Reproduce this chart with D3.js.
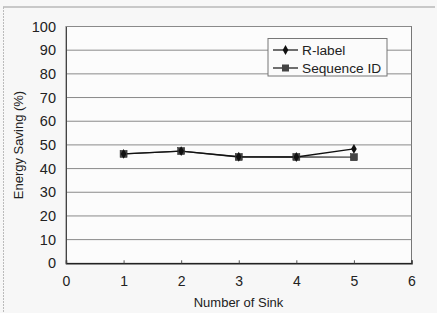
<!DOCTYPE html>
<html><head><meta charset="utf-8">
<script src="https://cdn.jsdelivr.net/npm/d3@7"></script>
<style>body{margin:0;background:#f7f7f7;}svg{display:block;}</style>
</head><body><svg id="c" width="437" height="313"></svg>
<script>
const xTicks = [0,1,2,3,4,5,6];
const yTicks = [0,10,20,30,40,50,60,70,80,90,100];
const sinks = [1,2,3,4,5];
const rLabel = [46.2,47.4,45.0,44.9,48.3];
const seqID = [46.2,47.4,44.9,44.9,44.8];
const seriesNames = ["R-label","Sequence ID"];

const svg = d3.select("#c");
const font = "Liberation Sans, Arial, sans-serif";
const L=66, R=411.5, T=26.5, B=263.3;
const x = d3.scaleLinear().domain([0,6]).range([L,R]);
const y = d3.scaleLinear().domain([0,100]).range([B,T]);

// outer frame
svg.append("line").attr("x1",3).attr("x2",435).attr("y1",7).attr("y2",7).attr("stroke","#999").attr("stroke-width",1);
svg.append("line").attr("x1",3.5).attr("x2",3.5).attr("y1",7).attr("y2",313).attr("stroke","#bbb").attr("stroke-width",1).attr("stroke-dasharray","2,1");

// plot area background
svg.append("rect").attr("x",L).attr("y",T).attr("width",R-L).attr("height",B-T).attr("fill","#fcfcfc").attr("stroke","#777").attr("stroke-width",1);

// gridlines
svg.append("g").selectAll("line").data(yTicks.filter(d=>d>0)).join("line")
  .attr("x1",L).attr("x2",R).attr("y1",d=>y(d)).attr("y2",d=>y(d))
  .attr("stroke","#8a8a8a").attr("stroke-width",1);

// axes
const gx = svg.append("g").attr("transform",`translate(0,${B})`)
  .call(d3.axisBottom(x).tickValues(xTicks).tickSize(-3).tickPadding(13).tickFormat(d3.format("d")));
gx.select(".domain").attr("stroke","#222").attr("stroke-width",1.5);
gx.selectAll(".tick line").attr("stroke","#555");
gx.selectAll("text").attr("font-family",font).attr("font-size",14).attr("fill","#222");

const gy = svg.append("g").attr("transform",`translate(${L},0)`)
  .call(d3.axisLeft(y).tickValues(yTicks).tickSize(0).tickPadding(10));
gy.select(".domain").attr("stroke","#444").attr("stroke-width",1);
gy.selectAll("text").attr("font-family",font).attr("font-size",14.5).attr("fill","#222");

// lines
const line = d3.line().x((d,i)=>x(sinks[i])).y(d=>y(d));
svg.append("path").datum(seqID).attr("d",line).attr("fill","none").attr("stroke","#444").attr("stroke-width",1.3);
svg.append("path").datum(rLabel).attr("d",line).attr("fill","none").attr("stroke","#111").attr("stroke-width",1.3);

const diamond = d3.symbol().type(d3.symbolDiamond).size(28);
svg.append("g").selectAll("rect").data(seqID).join("rect")
  .attr("x",(d,i)=>x(sinks[i])-3.5).attr("y",d=>y(d)-3.5).attr("width",7).attr("height",7)
  .attr("fill","#444").attr("stroke","#222").attr("stroke-width",0.5);
svg.append("g").selectAll("path").data(rLabel).join("path")
  .attr("d",diamond).attr("transform",(d,i)=>`translate(${x(sinks[i])},${y(d)})`).attr("fill","#111");

// legend
const lg = svg.append("g");
lg.append("rect").attr("x",268).attr("y",38.5).attr("width",119).attr("height",37.5).attr("fill","#fbfbfb").attr("stroke","#777");
const ly = [50,68];
seriesNames.forEach((n,i)=>{
  lg.append("line").attr("x1",273).attr("x2",298).attr("y1",ly[i]).attr("y2",ly[i]).attr("stroke","#222").attr("stroke-width",1.3);
  if(i===0) lg.append("path").attr("d",diamond).attr("transform",`translate(285.5,${ly[i]})`).attr("fill","#111");
  else lg.append("rect").attr("x",282).attr("y",ly[i]-3.5).attr("width",7).attr("height",7).attr("fill","#444");
  lg.append("text").attr("x",302).attr("y",ly[i]).attr("dy","0.36em").attr("font-family",font).attr("font-size",13.7).attr("fill","#222").text(n);
});

// axis titles
svg.append("text").attr("x",238.5).attr("y",302).attr("dy","0.36em").attr("text-anchor","middle")
  .attr("font-family",font).attr("font-size",13).attr("fill","#222").text("Number of Sink");
svg.append("text").attr("transform","translate(18,145) rotate(-90)").attr("dy","0.36em").attr("text-anchor","middle")
  .attr("font-family",font).attr("font-size",13).attr("fill","#222").text("Energy Saving (%)");
</script></body></html>
